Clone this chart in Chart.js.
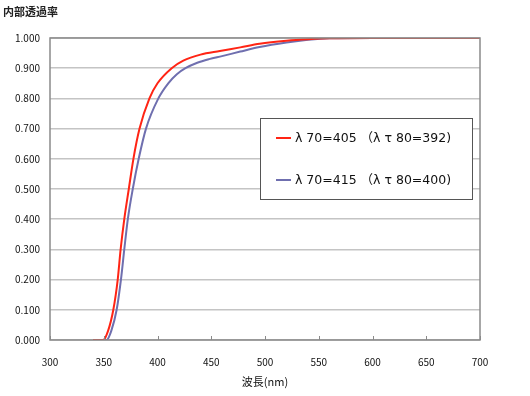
<!DOCTYPE html>
<html>
<head>
<meta charset="utf-8">
<script src="https://cdn.jsdelivr.net/npm/chart.js@4"></script>
<style>
  html, body { margin: 0; padding: 0; background: #fff; }
  #wrap { width: 530px; height: 396px; }
</style>
</head>
<body>
<div id="wrap"><canvas id="chart-area" width="530" height="396"></canvas></div>
<script>
// 波長 (nm) と内部透過率
var waveRed  = [340, 349.5, 354, 358.9, 363, 365.7, 369.1, 373.3, 377.6, 383.3, 392.5, 400, 413.2, 424, 440, 458, 477, 495, 520, 540, 560, 600, 700];
var tauRed   = [0, 0, 0.03, 0.1, 0.2, 0.3, 0.4, 0.5, 0.6, 0.7, 0.8, 0.85, 0.9, 0.925, 0.945, 0.957, 0.969, 0.981, 0.991, 0.996, 0.999, 1.0, 1.0];

var waveBlue = [346, 352.7, 357, 362, 366, 369.1, 372.4, 377, 382.5, 389.3, 400.8, 410, 418, 426, 437, 448, 460, 477, 495, 520, 540, 560, 600, 700];
var tauBlue  = [0, 0, 0.03, 0.1, 0.2, 0.3, 0.4, 0.5, 0.6, 0.7, 0.8, 0.85, 0.88, 0.9, 0.918, 0.93, 0.94, 0.955, 0.97, 0.985, 0.994, 0.999, 1.0, 1.0];

var seriesNames = ["λ 70=405 （λ τ 80=392)", "λ 70=415 （λ τ 80=400)"];
var seriesColors = ["#ff2414", "#6f6faf"];

var xTicks = [300, 350, 400, 450, 500, 550, 600, 650, 700];
var yTicks = [0, 0.1, 0.2, 0.3, 0.4, 0.5, 0.6, 0.7, 0.8, 0.9, 1.0];

var yTitle = "内部透過率";
var xTitle = "波長(nm)";

const FONT = "'Noto Sans CJK JP', 'Noto Sans', sans-serif";
const LEGEND_FONT = "12.5px 'DejaVu Sans', 'Noto Sans CJK JP', sans-serif";

function toPoints(xs, ys) {
  var pts = [];
  for (var i = 0; i < xs.length; i++) {
    pts.push({x: xs[i], y: ys[i]});
  }
  return pts;
}

// 左上のタイトル、枠、内向きの目盛り、凡例
const extras = {
  id: 'extras',
  afterDraw(chart) {
    const c = chart.ctx;
    const a = chart.chartArea;
    const xs = chart.scales.x;
    c.save();
    // 枠
    c.strokeStyle = '#8a8a8a';
    c.lineWidth = 1.5;
    c.strokeRect(a.left, a.top, a.right - a.left, a.bottom - a.top);
    // x目盛り（内向き）
    c.lineWidth = 1;
    xTicks.forEach(function(v) {
      var px = Math.round(xs.getPixelForValue(v)) + 0.5;
      c.beginPath();
      c.moveTo(px, a.bottom);
      c.lineTo(px, a.bottom - 4);
      c.stroke();
    });
    // タイトル
    c.fillStyle = '#222';
    c.font = "bold 11px " + FONT;
    c.textBaseline = 'middle';
    c.textAlign = 'left';
    c.fillText(yTitle, 3, 12);
    // 凡例
    var bx = 260, by = 118, bw = 212, bh = 81;
    c.fillStyle = '#fff';
    c.fillRect(bx, by, bw, bh);
    c.strokeStyle = '#555';
    c.lineWidth = 1;
    c.strokeRect(bx + 0.5, by + 0.5, bw, bh);
    c.font = LEGEND_FONT;
    chart.data.datasets.forEach(function(ds, i) {
      var ly = 138 + i * 42;
      c.strokeStyle = ds.borderColor;
      c.lineWidth = 2;
      c.beginPath();
      c.moveTo(276, ly);
      c.lineTo(291, ly);
      c.stroke();
      c.fillStyle = '#111';
      c.fillText(ds.label, 295, ly + 1);
    });
    c.restore();
  }
};

var config = {
  type: 'line',
  data: {
    datasets: [
      {
        label: seriesNames[0],
        data: toPoints(waveRed, tauRed),
        borderColor: seriesColors[0],
        borderWidth: 2,
        pointRadius: 0,
        cubicInterpolationMode: 'monotone',
        fill: false
      },
      {
        label: seriesNames[1],
        data: toPoints(waveBlue, tauBlue),
        borderColor: seriesColors[1],
        borderWidth: 2,
        pointRadius: 0,
        cubicInterpolationMode: 'monotone',
        fill: false
      }
    ]
  },
  options: {
    responsive: false,
    animation: false,
    layout: { padding: { left: 0, right: 50, top: 38, bottom: 0 } },
    plugins: {
      legend: { display: false },
      tooltip: { enabled: false }
    },
    scales: {
      x: {
        type: 'linear',
        min: 300,
        max: 700,
        afterBuildTicks: function(s) { s.ticks = xTicks.map(function(v) { return {value: v}; }); },
        afterFit: function(s) { s.height = 56; },
        grid: { display: false },
        border: { display: false },
        ticks: {
          color: '#111',
          font: { family: FONT, size: 10 },
          padding: 8,
          maxRotation: 0
        },
        title: {
          display: true,
          text: xTitle,
          color: '#111',
          font: { family: FONT, size: 11 },
          padding: { top: 0, bottom: 8 }
        }
      },
      y: {
        min: 0,
        max: 1,
        afterBuildTicks: function(s) { s.ticks = yTicks.map(function(v) { return {value: v}; }); },
        afterFit: function(s) { s.width = 50; },
        grid: { color: '#c4c4c4', lineWidth: 1.5, drawTicks: false },
        border: { display: false },
        ticks: {
          color: '#111',
          font: { family: FONT, size: 10 },
          padding: 10,
          callback: function(v) { return Number(v).toFixed(3); }
        }
      }
    }
  },
  plugins: [extras]
};

var ctx = document.getElementById("chart-area").getContext("2d");
var myChart = new Chart(ctx, config);
</script>
</body>
</html>
